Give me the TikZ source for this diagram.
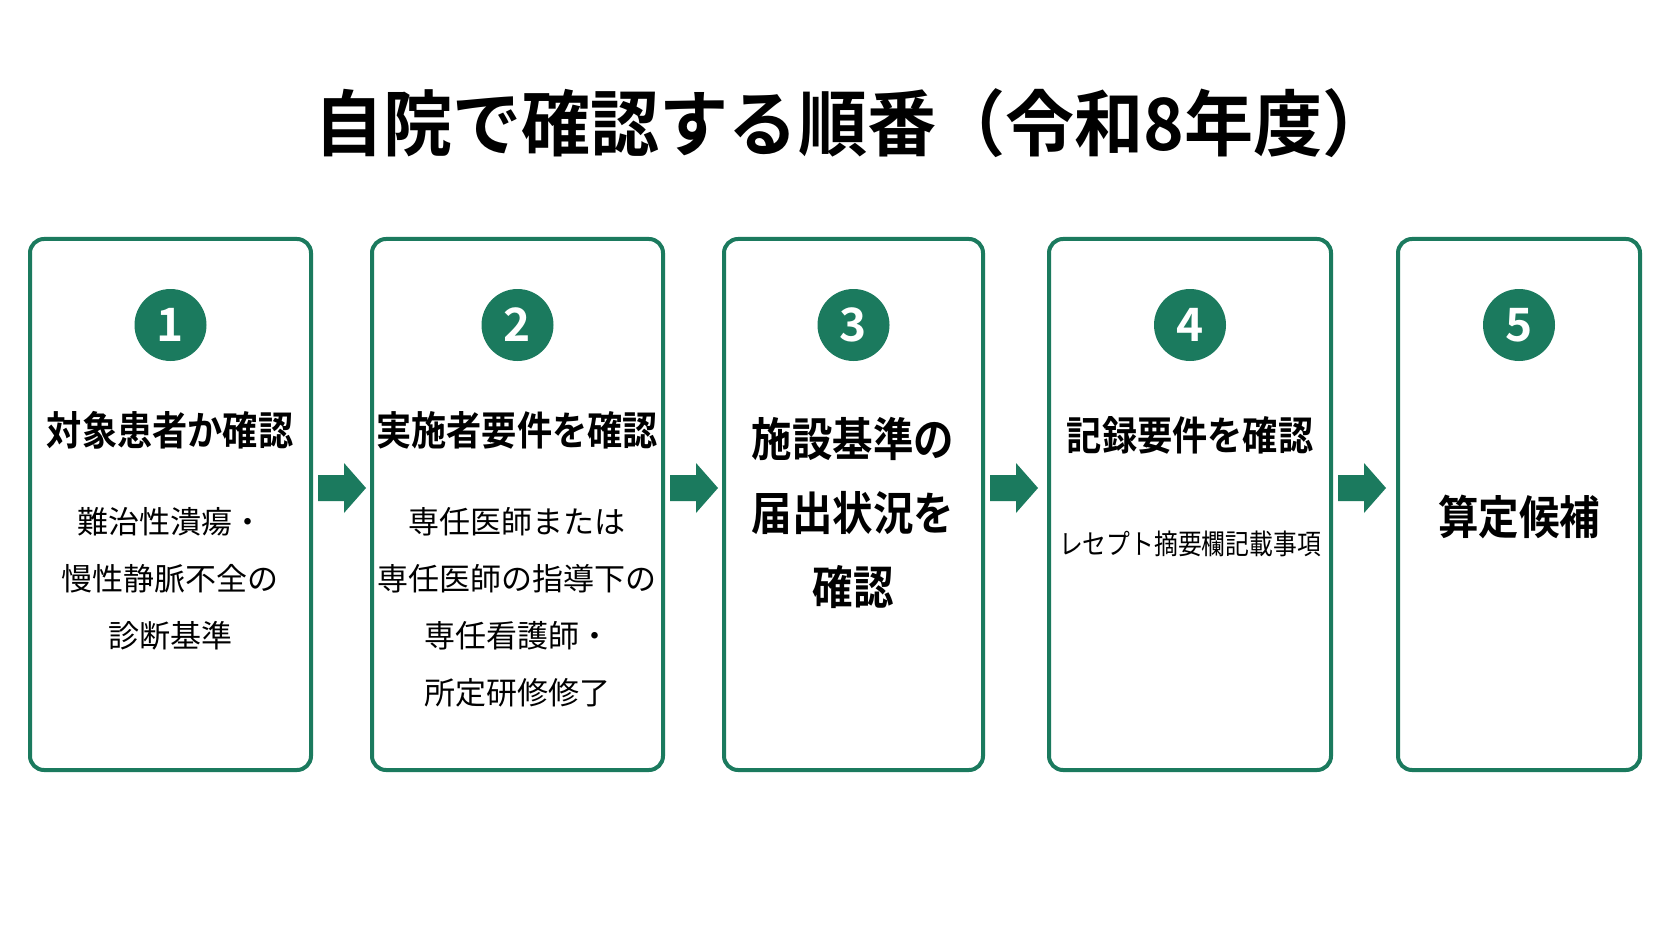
\documentclass[tikz,border=0pt]{standalone}
\usepackage{fontspec}
\newfontfamily\jp{Noto Sans CJK JP}
\newfontfamily\jpb{Noto Sans CJK JP Bold}
\newfontfamily\jph[FakeStretch=0.88]{Noto Sans CJK JP Bold}
\definecolor{grn}{HTML}{1B7A5E}
\begin{document}
\begin{tikzpicture}[x=1pt,y=-1pt,
 box/.style={draw=grn,line width=4pt,rounded corners=14pt},
 num/.style={circle,fill=grn,minimum size=72pt,inner sep=0pt,text=white,font=\jpb\fontsize{46}{46}\selectfont},
 head/.style={font=\jph\fontsize{40}{40}\selectfont,align=center},
 body/.style={font=\jp\fontsize{31}{57}\selectfont,align=center},
 arr/.style={fill=grn}]
\fill[white] (0,0) rectangle (1672,941);
\node[font=\jpb\fontsize{72}{72}\selectfont] (t) at (853,123) {\addfontfeature{FakeStretch=0.96}自院で確認する順番（令和8年度）};
\foreach \n/\a/\b in {1/30/311,2/372/663,3/724/983,4/1049/1331,5/1398/1640}{
 \draw[box] (\a,239) rectangle (\b,770);
 \node[num] (c\n) at ({(\a+\b)/2},325) {\n};
 \coordinate (m\n) at ({(\a+\b)/2},430);
}
\node[head] (h1) at (170,430) {対象患者か確認};
\node[body] (b1) at (170,579) {難治性潰瘍・\\慢性静脈不全の\\診断基準};
\node[head] (h2) at (517,430) {実施者要件を確認};
\node[body] (b2) at (517,607) {専任医師または\\専任医師の指導下の\\専任看護師・\\所定研修修了};
\node[head,font=\jph\fontsize{46}{74}\selectfont] (h3) at (853,513) {施設基準の\\届出状況を\\確認};
\node[head] (h4) at (1190,435) {記録要件を確認};
\node[body,font=\jp\fontsize{28}{30}\selectfont] (b4) at (1190,544) {\addfontfeature{FakeStretch=0.85}レセプト摘要欄記載事項};
\node[head,font=\jph\fontsize{46}{46}\selectfont] (h5) at (1519,517) {算定候補};
\foreach \x in {318,670,990,1338}{
 \fill[arr] (\x,475) -- (\x+26,475) -- (\x+26,463) -- (\x+48,488) -- (\x+26,513) -- (\x+26,501) -- (\x,501) -- cycle;
}
\end{tikzpicture}
\end{document}
